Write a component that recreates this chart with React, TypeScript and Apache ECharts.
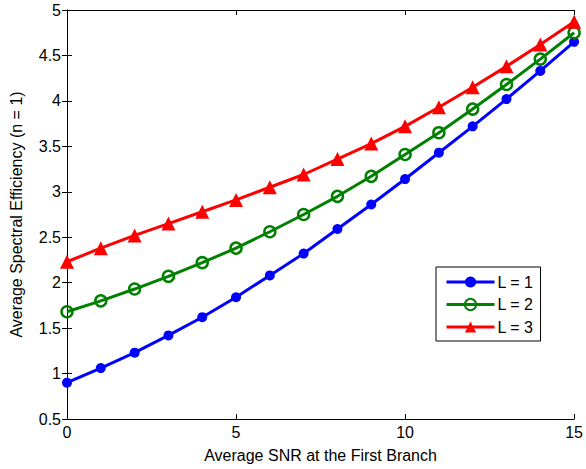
import React, { useEffect, useRef } from "react";
import * as echarts from "echarts";

const snr = [0, 1, 2, 3, 4, 5, 6, 7, 8, 9, 10, 11, 12, 13, 14, 15];
const l1 = [0.9, 1.06, 1.23, 1.42, 1.62, 1.84, 2.08, 2.32, 2.59, 2.86, 3.14, 3.43, 3.72, 4.02, 4.33, 4.65];
const l2 = [1.68, 1.8, 1.93, 2.07, 2.22, 2.38, 2.56, 2.75, 2.95, 3.17, 3.41, 3.65, 3.91, 4.18, 4.46, 4.75];
const l3 = [2.23, 2.38, 2.52, 2.65, 2.78, 2.91, 3.05, 3.19, 3.36, 3.53, 3.72, 3.93, 4.15, 4.38, 4.62, 4.87];
const seriesNames = ["L = 1", "L = 2", "L = 3"];
const xTitle = "Average SNR at the First Branch";
const yTitle = "Average Spectral Efficiency (n = 1)";

const FONT = "'Liberation Sans', Arial, sans-serif";

export default function App() {
  const ref = useRef<HTMLDivElement>(null);
  useEffect(() => {
    document.body.style.margin = "0";
    if (!ref.current) return;
    const chart = echarts.init(ref.current, null, { renderer: "svg" });
    const pairs = (ys: number[]) => snr.map((x, i) => [x, ys[i]]);
    const axisLine = { show: true, lineStyle: { color: "#000", width: 1 } };
    const tick = { show: true, inside: true, length: 5, lineStyle: { color: "#000" } };
    const mk = (name: string, ys: number[], color: string, symbol: string, size: number, filled: boolean) => ({
      name,
      type: "line",
      data: pairs(ys),
      symbol,
      symbolSize: size,
      showSymbol: true,
      lineStyle: { color, width: 3 },
      itemStyle: filled
        ? { color, borderColor: color, borderWidth: 0 }
        : { color: "transparent", borderColor: color, borderWidth: 2.5 },
      emphasis: { disabled: true },
    });
    chart.setOption({
      animation: false,
      backgroundColor: "#fff",
      textStyle: { fontFamily: FONT },
      grid: { left: 60, top: 10, right: 8, bottom: 50, containLabel: false },
      xAxis: [
        {
          type: "value",
          min: 0,
          max: 15,
          interval: 5,
          position: "bottom",
          axisLine,
          axisTick: tick,
          splitLine: { show: false },
          axisLabel: { color: "#000", fontSize: 16, margin: 5, fontFamily: FONT },
          name: xTitle,
          nameLocation: "middle",
          nameGap: 28,
          nameTextStyle: { color: "#000", fontSize: 16, fontFamily: FONT },
        },
        {
          type: "value",
          min: 0,
          max: 15,
          interval: 5,
          position: "top",
          axisLine,
          axisTick: tick,
          splitLine: { show: false },
          axisLabel: { show: false },
        },
      ],
      yAxis: [
        {
          type: "value",
          min: 0.5,
          max: 5,
          interval: 0.5,
          position: "left",
          axisLine,
          axisTick: tick,
          splitLine: { show: false },
          axisLabel: { color: "#000", fontSize: 16, margin: 6, fontFamily: FONT },
          name: yTitle,
          nameLocation: "middle",
          nameGap: 43,
          nameRotate: 90,
          nameTextStyle: { color: "#000", fontSize: 16, fontFamily: FONT },
        },
        {
          type: "value",
          min: 0.5,
          max: 5,
          interval: 0.5,
          position: "right",
          axisLine,
          axisTick: tick,
          splitLine: { show: false },
          axisLabel: { show: false },
        },
      ],
      legend: {
        orient: "vertical",
        left: 436,
        top: 267,
        padding: [7, 7, 6, 9],
        itemWidth: 48,
        itemHeight: 14,
        itemGap: 6.5,
        borderColor: "#000",
        borderWidth: 1,
        backgroundColor: "#fff",
        lineStyle: { width: 3 },
        textStyle: { color: "#000", fontSize: 16, fontFamily: FONT, lineHeight: 14, padding: [0, 0, 0, -2] },
        data: seriesNames,
      },
      series: [
        mk(seriesNames[0], l1, "#0000ff", "circle", 10, true),
        mk(seriesNames[1], l2, "#008000", "circle", 11, false),
        mk(seriesNames[2], l3, "#ff0000", "triangle", 14, true),
      ],
    });
    return () => chart.dispose();
  }, []);
  return <div ref={ref} style={{ width: 586, height: 469 }} />;
}
